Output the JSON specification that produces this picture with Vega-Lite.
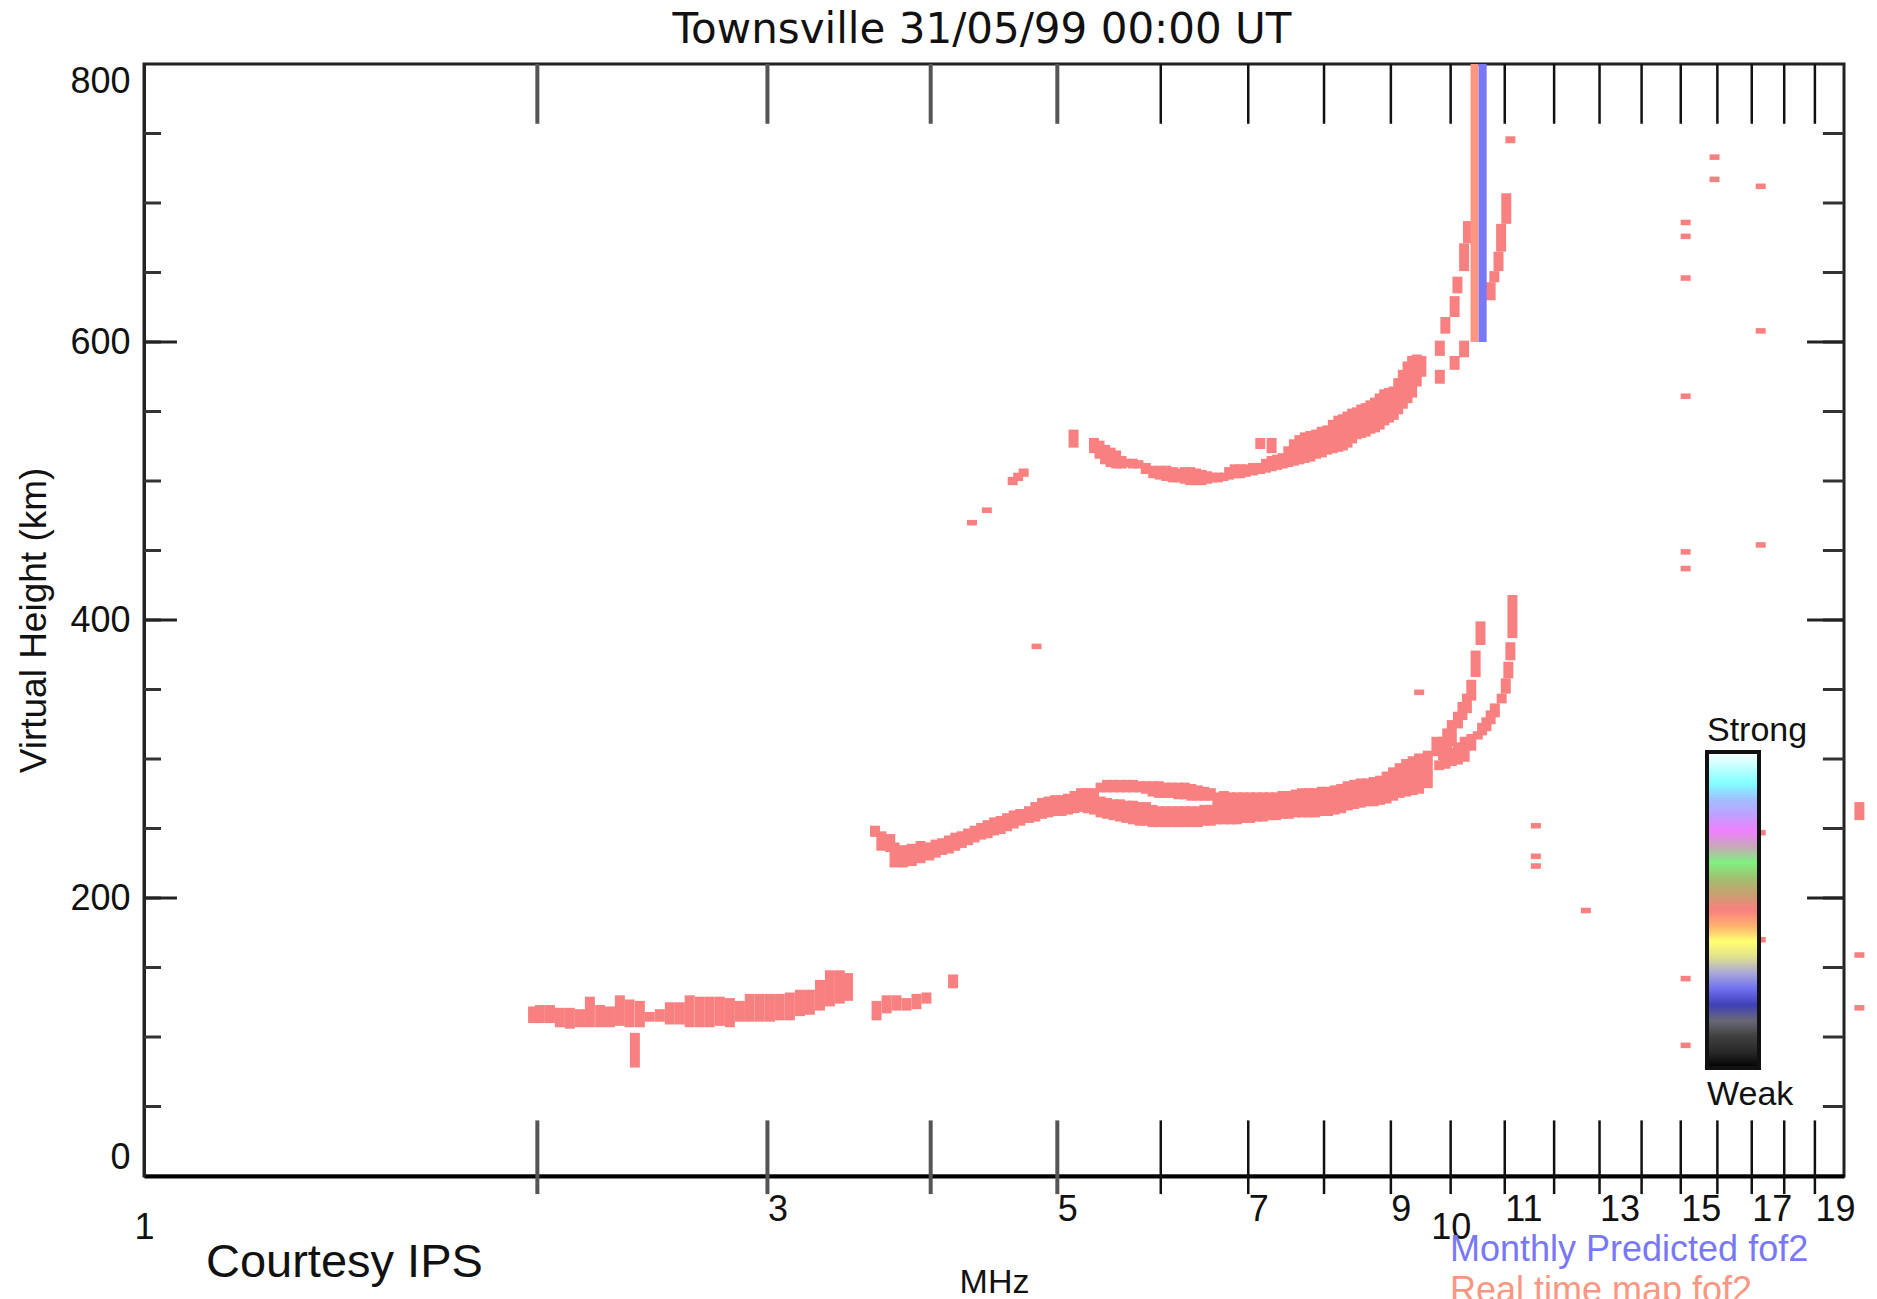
{
  "$schema": "https://vega.github.io/schema/vega-lite/v6.json",
  "width": 1700,
  "height": 1112,
  "autosize": "none",
  "padding": {"left": 144, "top": 64, "right": 33, "bottom": 123},
  "background": "white",
  "config": {"view": {"stroke": "#222", "strokeWidth": 3}, "font": "Liberation Sans"},
  "title": {"text": "Townsville 31/05/99 00:00 UT", "font": "DejaVu Sans", "fontSize": 42, "fontWeight": "normal", "color": "#111", "anchor": "middle", "frame": "group", "offset": 8, "dx": -12},
  "datasets": {
    "trace": [
      {"f":1.985,"lo":110,"hi":122,"s":0.5},{"f":2.009,"lo":110,"hi":123,"s":0.5},{"f":2.045,"lo":110,"hi":123,"s":0.5},{"f":2.081,"lo":107,"hi":121,"s":0.5},
      {"f":2.118,"lo":106,"hi":121,"s":0.5},{"f":2.156,"lo":107,"hi":120,"s":0.5},{"f":2.194,"lo":107,"hi":129,"s":0.5},{"f":2.234,"lo":107,"hi":123,"s":0.5},
      {"f":2.273,"lo":107,"hi":122,"s":0.5},{"f":2.313,"lo":108,"hi":130,"s":0.5},{"f":2.353,"lo":107,"hi":127,"s":0.5},{"f":2.375,"lo":78,"hi":103,"s":0.5},
      {"f":2.396,"lo":107,"hi":126,"s":0.5},{"f":2.438,"lo":111,"hi":118,"s":0.5},{"f":2.482,"lo":111,"hi":120,"s":0.5},{"f":2.526,"lo":109,"hi":125,"s":0.5},
      {"f":2.571,"lo":109,"hi":125,"s":0.5},{"f":2.616,"lo":107,"hi":130,"s":0.5},{"f":2.663,"lo":107,"hi":129,"s":0.5},{"f":2.71,"lo":107,"hi":129,"s":0.5},
      {"f":2.759,"lo":108,"hi":129,"s":0.5},{"f":2.808,"lo":107,"hi":128,"s":0.5},{"f":2.858,"lo":111,"hi":126,"s":0.5},{"f":2.908,"lo":111,"hi":131,"s":0.5},
      {"f":2.96,"lo":111,"hi":131,"s":0.5},{"f":3.013,"lo":111,"hi":131,"s":0.5},{"f":3.066,"lo":112,"hi":131,"s":0.5},{"f":3.121,"lo":112,"hi":132,"s":0.5},
      {"f":3.177,"lo":115,"hi":134,"s":0.5},{"f":3.233,"lo":116,"hi":134,"s":0.5},{"f":3.291,"lo":119,"hi":141,"s":0.5},{"f":3.349,"lo":122,"hi":148,"s":0.5},
      {"f":3.408,"lo":124,"hi":148,"s":0.5},{"f":3.458,"lo":126,"hi":146,"s":0.5},{"f":3.636,"lo":112,"hi":126,"s":0.5},{"f":3.701,"lo":117,"hi":130,"s":0.5},
      {"f":3.766,"lo":119,"hi":130,"s":0.5},{"f":3.833,"lo":119,"hi":128,"s":0.5},{"f":3.901,"lo":120,"hi":131,"s":0.5},{"f":3.97,"lo":124,"hi":132,"s":0.5},
      {"f":4.161,"lo":135,"hi":145,"s":0.5},

      {"f":3.626,"lo":244,"hi":252,"s":0.5},{"f":3.667,"lo":234,"hi":248,"s":0.5},{"f":3.725,"lo":233,"hi":246,"s":0.5},{"f":3.753,"lo":222,"hi":240,"s":0.5},
      {"f":3.811,"lo":222,"hi":238,"s":0.5},{"f":3.869,"lo":223,"hi":239,"s":0.5},{"f":3.929,"lo":225,"hi":241,"s":0.5},{"f":3.99,"lo":227,"hi":240,"s":0.5},
      {"f":4.035,"lo":229,"hi":242,"s":0.5},{"f":4.082,"lo":231,"hi":243,"s":0.5},{"f":4.13,"lo":232,"hi":245,"s":0.5},{"f":4.177,"lo":234,"hi":247,"s":0.5},
      {"f":4.225,"lo":236,"hi":248,"s":0.5},{"f":4.273,"lo":238,"hi":250,"s":0.5},{"f":4.322,"lo":240,"hi":252,"s":0.5},{"f":4.372,"lo":242,"hi":254,"s":0.5},
      {"f":4.422,"lo":243,"hi":256,"s":0.5},{"f":4.473,"lo":245,"hi":258,"s":0.5},{"f":4.525,"lo":246,"hi":259,"s":0.5},{"f":4.577,"lo":248,"hi":261,"s":0.5},
      {"f":4.63,"lo":250,"hi":263,"s":0.5},{"f":4.684,"lo":252,"hi":264,"s":0.5},{"f":4.756,"lo":254,"hi":266,"s":0.5},{"f":4.81,"lo":255,"hi":269,"s":0.5},
      {"f":4.867,"lo":257,"hi":272,"s":0.5},{"f":4.923,"lo":258,"hi":273,"s":0.5},{"f":4.98,"lo":259,"hi":274,"s":0.5},{"f":5.037,"lo":259,"hi":274,"s":0.5},
      {"f":5.095,"lo":260,"hi":275,"s":0.5},{"f":5.154,"lo":261,"hi":277,"s":0.5},{"f":5.214,"lo":262,"hi":279,"s":0.5},{"f":5.274,"lo":261,"hi":279,"s":0.5},
      {"f":5.335,"lo":260,"hi":279,"s":0.5},
      {"f":5.396,"lo":258,"hi":273,"s":0.5},{"f":5.396,"lo":276,"hi":283,"s":0.5},
      {"f":5.458,"lo":257,"hi":272,"s":0.5},{"f":5.458,"lo":276,"hi":285,"s":0.5},
      {"f":5.521,"lo":256,"hi":271,"s":0.5},{"f":5.521,"lo":276,"hi":285,"s":0.5},
      {"f":5.584,"lo":255,"hi":271,"s":0.5},{"f":5.584,"lo":276,"hi":285,"s":0.5},
      {"f":5.648,"lo":254,"hi":270,"s":0.5},{"f":5.648,"lo":276,"hi":285,"s":0.5},
      {"f":5.714,"lo":253,"hi":270,"s":0.5},{"f":5.714,"lo":276,"hi":285,"s":0.5},
      {"f":5.78,"lo":252,"hi":269,"s":0.5},{"f":5.78,"lo":276,"hi":284,"s":0.5},
      {"f":5.846,"lo":252,"hi":269,"s":0.5},{"f":5.846,"lo":275,"hi":284,"s":0.5},
      {"f":5.913,"lo":251,"hi":267,"s":0.5},{"f":5.913,"lo":273,"hi":284,"s":0.5},
      {"f":5.981,"lo":251,"hi":266,"s":0.5},{"f":5.981,"lo":272,"hi":284,"s":0.5},
      {"f":6.049,"lo":251,"hi":266,"s":0.5},{"f":6.049,"lo":272,"hi":283,"s":0.5},
      {"f":6.118,"lo":251,"hi":266,"s":0.5},{"f":6.118,"lo":272,"hi":283,"s":0.5},
      {"f":6.189,"lo":251,"hi":266,"s":0.5},{"f":6.189,"lo":271,"hi":283,"s":0.5},
      {"f":6.26,"lo":251,"hi":266,"s":0.5},{"f":6.26,"lo":271,"hi":283,"s":0.5},
      {"f":6.332,"lo":251,"hi":266,"s":0.5},{"f":6.332,"lo":270,"hi":282,"s":0.5},
      {"f":6.405,"lo":251,"hi":266,"s":0.5},{"f":6.405,"lo":270,"hi":281,"s":0.5},
      {"f":6.479,"lo":252,"hi":267,"s":0.5},{"f":6.479,"lo":270,"hi":280,"s":0.5},
      {"f":6.553,"lo":252,"hi":267,"s":0.5},{"f":6.553,"lo":270,"hi":279,"s":0.5},
      {"f":6.629,"lo":253,"hi":276,"s":0.5},{"f":6.706,"lo":253,"hi":277,"s":0.5},{"f":6.783,"lo":253,"hi":276,"s":0.5},{"f":6.861,"lo":253,"hi":276,"s":0.5},
      {"f":6.94,"lo":254,"hi":276,"s":0.5},{"f":7.021,"lo":254,"hi":276,"s":0.5},{"f":7.102,"lo":255,"hi":276,"s":0.5},{"f":7.183,"lo":255,"hi":276,"s":0.5},
      {"f":7.267,"lo":256,"hi":276,"s":0.5},{"f":7.351,"lo":256,"hi":276,"s":0.5},{"f":7.436,"lo":257,"hi":277,"s":0.5},{"f":7.521,"lo":257,"hi":277,"s":0.5},
      {"f":7.608,"lo":258,"hi":278,"s":0.5},{"f":7.695,"lo":258,"hi":279,"s":0.5},{"f":7.785,"lo":258,"hi":279,"s":0.5},{"f":7.875,"lo":258,"hi":279,"s":0.5},
      {"f":7.966,"lo":259,"hi":280,"s":0.5},{"f":8.057,"lo":259,"hi":280,"s":0.5},{"f":8.151,"lo":260,"hi":281,"s":0.5},{"f":8.245,"lo":261,"hi":282,"s":0.5},
      {"f":8.34,"lo":263,"hi":284,"s":0.5},{"f":8.437,"lo":264,"hi":285,"s":0.5},{"f":8.533,"lo":265,"hi":286,"s":0.5},{"f":8.63,"lo":266,"hi":286,"s":0.5},
      {"f":8.73,"lo":266,"hi":287,"s":0.5},{"f":8.831,"lo":267,"hi":288,"s":0.5},{"f":8.933,"lo":268,"hi":291,"s":0.5},{"f":9.036,"lo":270,"hi":294,"s":0.5},
      {"f":9.14,"lo":272,"hi":297,"s":0.5},{"f":9.246,"lo":273,"hi":300,"s":0.5},{"f":9.352,"lo":274,"hi":302,"s":0.5},{"f":9.459,"lo":275,"hi":304,"s":0.5},
      {"f":9.605,"lo":279,"hi":306,"s":0.5},
      {"f":9.752,"lo":302,"hi":316,"s":0.5},{"f":9.865,"lo":299,"hi":316,"s":0.5},{"f":9.94,"lo":304,"hi":322,"s":0.5},{"f":10.02,"lo":309,"hi":328,"s":0.5},
      {"f":10.13,"lo":322,"hi":334,"s":0.5},{"f":10.21,"lo":328,"hi":341,"s":0.5},{"f":10.29,"lo":333,"hi":347,"s":0.5},{"f":10.37,"lo":342,"hi":357,"s":0.5},
      {"f":10.45,"lo":359,"hi":378,"s":0.5},{"f":10.54,"lo":382,"hi":399,"s":0.5},
      {"f":9.8,"lo":292,"hi":299,"s":0.5},{"f":9.91,"lo":293,"hi":304,"s":0.5},{"f":10.02,"lo":295,"hi":308,"s":0.5},{"f":10.13,"lo":296,"hi":312,"s":0.5},
      {"f":10.25,"lo":298,"hi":316,"s":0.5},{"f":10.37,"lo":306,"hi":318,"s":0.5},{"f":10.49,"lo":314,"hi":320,"s":0.5},{"f":10.57,"lo":317,"hi":326,"s":0.5},
      {"f":10.65,"lo":320,"hi":330,"s":0.5},{"f":10.73,"lo":325,"hi":335,"s":0.5},{"f":10.81,"lo":330,"hi":340,"s":0.5},{"f":10.94,"lo":340,"hi":347,"s":0.5},
      {"f":11.02,"lo":347,"hi":358,"s":0.5},{"f":11.07,"lo":358,"hi":370,"s":0.5},{"f":11.11,"lo":371,"hi":384,"s":0.5},{"f":11.15,"lo":387,"hi":418,"s":0.5},

      {"f":4.302,"lo":468,"hi":472,"s":0.5},{"f":4.416,"lo":477,"hi":481,"s":0.5},{"f":4.622,"lo":497,"hi":503,"s":0.5},{"f":4.667,"lo":500,"hi":506,"s":0.5},
      {"f":4.712,"lo":503,"hi":509,"s":0.5},{"f":5.145,"lo":524,"hi":537,"s":0.5},{"f":5.334,"lo":520,"hi":531,"s":0.5},{"f":5.386,"lo":516,"hi":529,"s":0.5},
      {"f":5.439,"lo":512,"hi":526,"s":0.5},{"f":5.492,"lo":510,"hi":524,"s":0.5},{"f":5.546,"lo":509,"hi":522,"s":0.5},{"f":5.6,"lo":509,"hi":518,"s":0.5},
      {"f":5.656,"lo":510,"hi":516,"s":0.5},{"f":5.712,"lo":509,"hi":516,"s":0.5},{"f":5.768,"lo":509,"hi":515,"s":0.5},{"f":5.844,"lo":505,"hi":513,"s":0.5},
      {"f":5.921,"lo":502,"hi":511,"s":0.5},{"f":5.99,"lo":501,"hi":511,"s":0.5},{"f":6.058,"lo":500,"hi":511,"s":0.5},{"f":6.128,"lo":499,"hi":510,"s":0.5},
      {"f":6.199,"lo":499,"hi":509,"s":0.5},{"f":6.26,"lo":498,"hi":510,"s":0.5},{"f":6.321,"lo":497,"hi":510,"s":0.5},{"f":6.384,"lo":497,"hi":509,"s":0.5},
      {"f":6.447,"lo":497,"hi":508,"s":0.5},{"f":6.51,"lo":498,"hi":507,"s":0.5},{"f":6.572,"lo":499,"hi":506,"s":0.5},{"f":6.637,"lo":499,"hi":506,"s":0.5},
      {"f":6.702,"lo":500,"hi":506,"s":0.5},{"f":6.768,"lo":501,"hi":510,"s":0.5},{"f":6.834,"lo":502,"hi":512,"s":0.5},{"f":6.902,"lo":502,"hi":512,"s":0.5},
      {"f":6.97,"lo":503,"hi":512,"s":0.5},{"f":7.06,"lo":504,"hi":513,"s":0.5},{"f":7.15,"lo":505,"hi":513,"s":0.5},{"f":7.15,"lo":523,"hi":531,"s":0.5},
      {"f":7.222,"lo":506,"hi":516,"s":0.5},{"f":7.294,"lo":507,"hi":518,"s":0.5},{"f":7.294,"lo":520,"hi":531,"s":0.5},{"f":7.366,"lo":508,"hi":519,"s":0.5},
      {"f":7.438,"lo":509,"hi":520,"s":0.5},{"f":7.512,"lo":510,"hi":525,"s":0.5},{"f":7.586,"lo":511,"hi":530,"s":0.5},{"f":7.66,"lo":512,"hi":533,"s":0.5},
      {"f":7.733,"lo":513,"hi":535,"s":0.5},{"f":7.81,"lo":514,"hi":536,"s":0.5},{"f":7.89,"lo":516,"hi":537,"s":0.5},{"f":7.968,"lo":517,"hi":539,"s":0.5},
      {"f":8.045,"lo":519,"hi":540,"s":0.5},{"f":8.125,"lo":520,"hi":544,"s":0.5},{"f":8.204,"lo":521,"hi":547,"s":0.5},{"f":8.27,"lo":522,"hi":548,"s":0.5},
      {"f":8.337,"lo":524,"hi":550,"s":0.5},{"f":8.406,"lo":527,"hi":552,"s":0.5},{"f":8.475,"lo":530,"hi":553,"s":0.5},{"f":8.542,"lo":531,"hi":555,"s":0.5},
      {"f":8.61,"lo":532,"hi":556,"s":0.5},{"f":8.681,"lo":534,"hi":558,"s":0.5},{"f":8.752,"lo":535,"hi":560,"s":0.5},{"f":8.824,"lo":537,"hi":563,"s":0.5},
      {"f":8.896,"lo":540,"hi":566,"s":0.5},{"f":8.97,"lo":542,"hi":567,"s":0.5},{"f":9.045,"lo":544,"hi":568,"s":0.5},{"f":9.118,"lo":548,"hi":574,"s":0.5},
      {"f":9.192,"lo":552,"hi":580,"s":0.5},{"f":9.268,"lo":556,"hi":586,"s":0.5},{"f":9.344,"lo":560,"hi":590,"s":0.5},{"f":9.42,"lo":568,"hi":591,"s":0.5},
      {"f":9.497,"lo":575,"hi":590,"s":0.5},
      {"f":9.811,"lo":570,"hi":580,"s":0.5},{"f":9.811,"lo":590,"hi":601,"s":0.5},{"f":9.907,"lo":606,"hi":618,"s":0.5},{"f":10.07,"lo":618,"hi":633,"s":0.5},
      {"f":10.07,"lo":580,"hi":590,"s":0.5},{"f":10.12,"lo":635,"hi":647,"s":0.5},{"f":10.24,"lo":651,"hi":671,"s":0.5},{"f":10.24,"lo":589,"hi":601,"s":0.5},
      {"f":10.31,"lo":671,"hi":687,"s":0.5},
      {"f":10.73,"lo":630,"hi":643,"s":0.5},{"f":10.8,"lo":643,"hi":651,"s":0.5},{"f":10.88,"lo":651,"hi":665,"s":0.5},{"f":10.93,"lo":665,"hi":685,"s":0.5},
      {"f":11.03,"lo":685,"hi":707,"s":0.5},{"f":11.11,"lo":743,"hi":748,"s":0.5},

      {"f":4.82,"lo":379,"hi":383,"s":0.5},{"f":9.46,"lo":346,"hi":350,"s":0.5},{"f":15.92,"lo":731,"hi":735,"s":0.5},{"f":15.92,"lo":715,"hi":719,"s":0.5},
      {"f":15.13,"lo":684,"hi":688,"s":0.5},{"f":15.13,"lo":674,"hi":678,"s":0.5},{"f":15.13,"lo":644,"hi":648,"s":0.5},{"f":17.27,"lo":710,"hi":714,"s":0.5},
      {"f":17.27,"lo":606,"hi":610,"s":0.5},{"f":15.13,"lo":559,"hi":563,"s":0.5},{"f":15.13,"lo":447,"hi":451,"s":0.5},{"f":15.13,"lo":435,"hi":439,"s":0.5},
      {"f":17.27,"lo":452,"hi":456,"s":0.5},{"f":11.62,"lo":250,"hi":254,"s":0.5},{"f":11.62,"lo":228,"hi":232,"s":0.5},{"f":11.62,"lo":221,"hi":225,"s":0.5},
      {"f":12.69,"lo":189,"hi":193,"s":0.5},{"f":15.13,"lo":140,"hi":144,"s":0.5},{"f":15.13,"lo":92,"hi":96,"s":0.5},{"f":17.27,"lo":245,"hi":249,"s":0.5},
      {"f":17.27,"lo":168,"hi":172,"s":0.5},{"f":20.55,"lo":256,"hi":269,"s":0.5},{"f":20.55,"lo":157,"hi":161,"s":0.5},{"f":20.55,"lo":119,"hi":123,"s":0.5}
    ],
    "bars": [
      {"f": 10.43, "series": "Real time map fof2"},
      {"f": 10.58, "series": "Monthly Predicted fof2"}
    ],
    "xt": [{"f":2},{"f":3},{"f":4},{"f":5},{"f":6},{"f":7},{"f":8},{"f":9},{"f":10},{"f":11},{"f":12},{"f":13},{"f":14},{"f":15},{"f":16},{"f":17},{"f":18},{"f":19}],
    "yt": [{"h":50},{"h":100},{"h":150},{"h":200},{"h":250},{"h":300},{"h":350},{"h":400},{"h":450},{"h":500},{"h":550},{"h":600},{"h":650},{"h":700},{"h":750}]
  },
  "layer": [
    {
      "data": {"name": "trace"},
      "mark": {"type": "rule", "strokeWidth": 10, "strokeCap": "butt"},
      "encoding": {
        "x": {
          "field": "f", "type": "quantitative",
          "scale": {"type": "log", "domain": [1, 20], "nice": false},
          "axis": {
            "orient": "bottom", "values": [1, 3, 5, 7, 9, 10, 11, 13, 15, 17, 19], "format": "d",
            "ticks": false, "grid": false, "domainColor": "#000", "domainWidth": 4,
            "labelFont": "Liberation Sans", "labelFontSize": 36, "labelColor": "#111", "labelBaseline": "top",
            "labelAlign": {"condition": {"test": "datum.value == 1 || datum.value == 10", "value": "center"}, "value": "left"},
            "labelPadding": {"condition": {"test": "datum.value == 1 || datum.value == 10", "value": 34}, "value": 16},
            "labelOverlap": false, "labelFlush": false, "labelBound": false,
            "title": "MHz", "titleFont": "Liberation Sans", "titleFontSize": 34, "titleFontWeight": "normal", "titleColor": "#111",
            "titleY": 116, "titleBaseline": "alphabetic"
          }
        },
        "y": {
          "field": "lo", "type": "quantitative",
          "scale": {"domain": [0, 800], "nice": false, "zero": false},
          "axis": {
            "orient": "left", "values": [0, 200, 400, 600, 800], "format": "d", "ticks": false, "grid": false,
            "domainColor": "#222", "domainWidth": 3,
            "labelFont": "Liberation Sans", "labelFontSize": 36, "labelColor": "#111", "labelPadding": 14, "labelFlush": true,
            "title": "Virtual Height (km)", "titleFont": "Liberation Sans", "titleFontSize": 37, "titleFontWeight": "normal", "titleColor": "#111",
            "titleX": -110, "titleBaseline": "middle"
          }
        },
        "y2": {"field": "hi"},
        "color": {
          "field": "s", "type": "quantitative",
          "scale": {
            "domain": [0, 0.05, 0.1, 0.15, 0.2, 0.25, 0.3, 0.35, 0.4, 0.45, 0.5, 0.55, 0.6, 0.65, 0.7, 0.75, 0.8, 0.85, 0.9, 0.95, 1],
            "range": ["#000000", "#282828", "#404040", "#686878", "#4040b8", "#7070f0", "#a8a8d8", "#e0e090", "#ffff70", "#ffb070", "#f98080", "#c8a070", "#a0c070", "#80f080", "#c8a8b8", "#f080ff", "#c0a0ff", "#a0c0ff", "#80ffff", "#c0ffff", "#ffffff"],
            "interpolate": "rgb"
          },
          "legend": {
            "orient": "none", "legendX": 1563, "legendY": 650, "direction": "vertical",
            "title": "Strong", "titleFont": "Liberation Sans", "titleFontSize": 34, "titleFontWeight": "normal", "titleColor": "#111", "titlePadding": 4,
            "gradientLength": 316, "gradientThickness": 52, "gradientStrokeColor": "#111", "gradientStrokeWidth": 4,
            "values": [0], "labelExpr": "'Weak'", "labelFont": "Liberation Sans", "labelFontSize": 34, "labelColor": "#111",
            "labelOffset": -52,
            "encode": {"labels": {"update": {"dy": {"value": 44}}}}
          }
        }
      }
    },
    {
      "data": {"name": "bars"},
      "mark": {"type": "rule", "strokeWidth": 8, "strokeCap": "butt"},
      "encoding": {
        "x": {"field": "f", "type": "quantitative"},
        "y": {"datum": 600, "type": "quantitative"},
        "y2": {"datum": 800},
        "stroke": {
          "field": "series", "type": "nominal",
          "scale": {"domain": ["Monthly Predicted fof2", "Real time map fof2"], "range": ["#7878f6", "#fa9682"]},
          "legend": {
            "orient": "none", "legendX": 1270, "legendY": 1168, "title": null,
            "symbolSize": 0, "symbolOpacity": 0, "symbolStrokeWidth": 0, "labelOffset": 0,
            "labelFont": "Liberation Sans", "labelFontSize": 36, "labelLimit": 0, "rowPadding": 5,
            "encode": {"labels": {"update": {"fill": {"signal": "datum.value == 'Monthly Predicted fof2' ? '#7878f6' : '#fa9682'"}}}}
          }
        }
      }
    },
    {
      "data": {"name": "xt"},
      "mark": {"type": "rule", "strokeCap": "butt"},
      "encoding": {
        "x": {"field": "f", "type": "quantitative"},
        "y": {"datum": 757, "type": "quantitative"},
        "y2": {"datum": 800},
        "color": {"condition": {"test": "datum.f <= 5", "value": "#555555"}, "value": "#111111"},
        "strokeWidth": {"condition": {"test": "datum.f <= 5", "value": 4}, "value": 2.5}
      }
    },
    {
      "data": {"name": "xt"},
      "mark": {"type": "rule", "strokeCap": "butt"},
      "encoding": {
        "x": {"field": "f", "type": "quantitative"},
        "y": {"datum": -13, "type": "quantitative"},
        "y2": {"datum": 40},
        "color": {"condition": {"test": "datum.f <= 5", "value": "#555555"}, "value": "#111111"},
        "strokeWidth": {"condition": {"test": "datum.f <= 5", "value": 4}, "value": 2.5}
      }
    },
    {
      "data": {"name": "yt"},
      "mark": {"type": "rule", "strokeWidth": 3, "color": "#333", "strokeCap": "butt"},
      "encoding": {
        "y": {"field": "h", "type": "quantitative"},
        "x": {"datum": 1, "type": "quantitative"},
        "x2": {"datum": 1.0304}
      }
    },
    {
      "data": {"name": "yt"},
      "transform": [{"filter": "datum.h % 200 == 0"}],
      "mark": {"type": "rule", "strokeWidth": 3, "color": "#222", "strokeCap": "butt"},
      "encoding": {
        "y": {"field": "h", "type": "quantitative"},
        "x": {"datum": 1, "type": "quantitative"},
        "x2": {"datum": 1.0598}
      }
    },
    {
      "data": {"name": "yt"},
      "mark": {"type": "rule", "strokeWidth": 3, "color": "#333", "strokeCap": "butt"},
      "encoding": {
        "y": {"field": "h", "type": "quantitative"},
        "x": {"datum": 19.27, "type": "quantitative"},
        "x2": {"datum": 20}
      }
    },
    {
      "data": {"name": "yt"},
      "transform": [{"filter": "datum.h % 200 == 0"}],
      "mark": {"type": "rule", "strokeWidth": 3, "color": "#222", "strokeCap": "butt"},
      "encoding": {
        "y": {"field": "h", "type": "quantitative"},
        "x": {"datum": 18.74, "type": "quantitative"},
        "x2": {"datum": 20}
      }
    },
    {
      "data": {"values": [{"t": "Courtesy IPS"}]},
      "mark": {"type": "text", "align": "left", "baseline": "alphabetic", "fontSize": 47, "font": "Liberation Sans", "color": "#111"},
      "encoding": {
        "text": {"field": "t"},
        "x": {"datum": 1.1154, "type": "quantitative"},
        "y": {"datum": -72.7, "type": "quantitative"}
      }
    }
  ]
}
